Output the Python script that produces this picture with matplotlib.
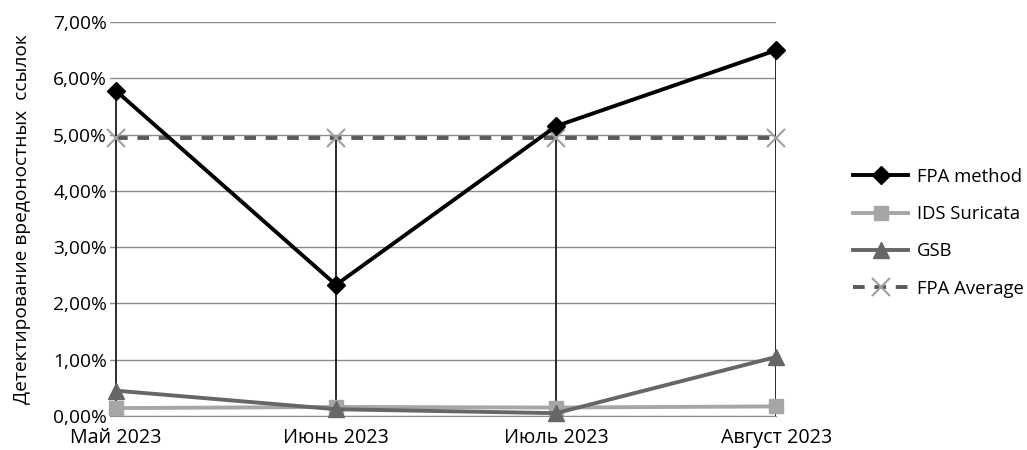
import matplotlib.pyplot as plt
from matplotlib.ticker import FuncFormatter

plt.rcParams['font.family'] = ['Open Sans', 'DejaVu Sans']

months = ["Май 2023", "Июнь 2023", "Июль 2023", "Август 2023"]
fpa_method = [5.78, 2.33, 5.15, 6.50]
ids_suricata = [0.14, 0.16, 0.15, 0.17]
gsb = [0.45, 0.12, 0.05, 1.05]
fpa_average = [4.94, 4.94, 4.94, 4.94]

fig = plt.figure(figsize=(10.27, 4.5), dpi=100)
ax = fig.add_axes([0.107, 0.0756, 0.6489, 0.8755])

x = list(range(len(months)))

# drop lines from the highest point of each category
tops = [max(v) for v in zip(fpa_method, ids_suricata, gsb, fpa_average)]
ax.vlines(x, 0, tops, color='#1a1a1a', lw=1.3, zorder=2)

ax.plot(x, fpa_method, color='black', lw=2.8, marker='D', ms=9,
        label='FPA method', zorder=6, clip_on=False)
ax.plot(x, ids_suricata, color='#a6a6a6', lw=2.8, marker='s', ms=10,
        label='IDS Suricata', zorder=4, clip_on=False)
ax.plot(x, gsb, color='#666666', lw=2.8, marker='^', ms=11,
        label='GSB', zorder=5, clip_on=False)
ax.plot(x, fpa_average, color='#595959', lw=2.8, ls=(0, (3, 2.5)),
        marker='x', ms=13, mec='#a0a0a0', mew=1.5,
        label='FPA Average', zorder=3, clip_on=False)

ax.set_xlim(-0.027, 3)
ax.set_ylim(0, 7)
ax.set_yticks(range(8))
ax.yaxis.set_major_formatter(FuncFormatter(lambda v, p: f"{v:.2f}%".replace('.', ',')))
ax.set_xticks(x)
ax.set_xticklabels(months)
ax.grid(axis='y', color='#8c8c8c', lw=1)
ax.set_axisbelow(True)
for s in ['top', 'right', 'left']:
    ax.spines[s].set_visible(False)
ax.spines['bottom'].set_color('#8c8c8c')
ax.tick_params(axis='both', length=0, colors='black')
ax.tick_params(axis='y', pad=2, labelsize=13.8)
ax.tick_params(axis='x', pad=9, labelsize=14.2)
ax.set_ylabel("Детектирование вредоностных  ссылок", fontsize=13.8, labelpad=16)

ax.legend(loc='center left', bbox_to_anchor=(1.09, 0.465), frameon=False,
          fontsize=13.3, handlelength=3.0, labelspacing=1.05, handletextpad=0.45)

fig.savefig('out.png', dpi=100)
